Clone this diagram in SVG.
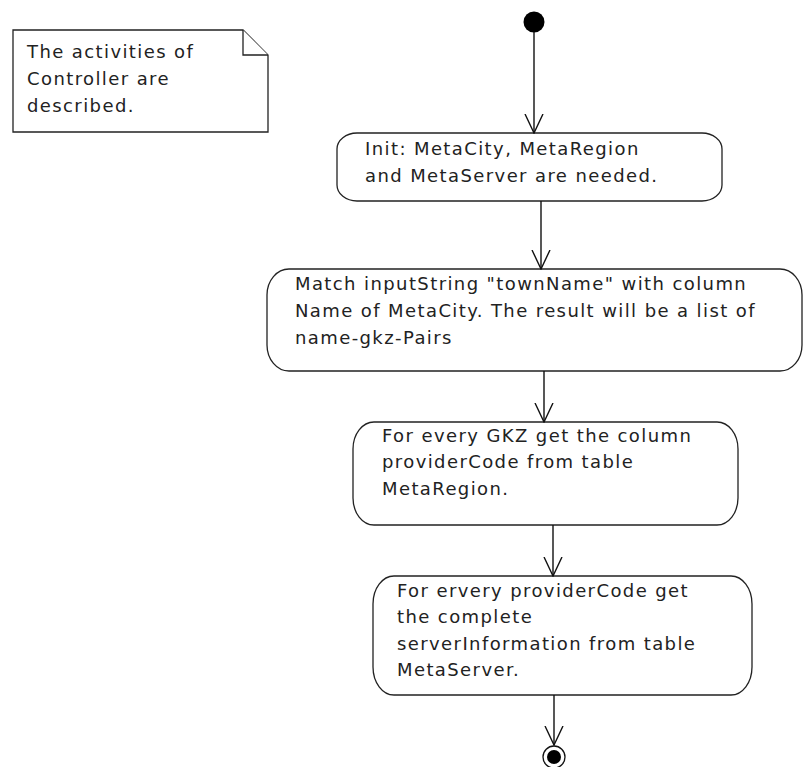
<svg xmlns="http://www.w3.org/2000/svg" width="803" height="767" viewBox="0 0 803 767">
<style>
.box{fill:#fff;stroke:#222;stroke-width:1.3}
.t{font-family:"DejaVu Sans",Verdana,sans-serif;font-size:18px;letter-spacing:1.4px;fill:#222}
.c{stroke:#111;stroke-width:1.4;fill:none}
</style>
<defs>
<marker id="open" markerWidth="20" markerHeight="22" refX="19" refY="10" orient="auto" markerUnits="userSpaceOnUse">
<path d="M0,1 L19,10 L0,19" fill="none" stroke="#111" stroke-width="1.4"/>
</marker>
</defs>
<rect width="803" height="767" fill="#fff"/>
<g id="note">
<path class="box" d="M13,30 H243 L268,55 V132 H13 Z"/>
<path class="box" d="M243,30 V55 H268" fill="none"/>
<text class="t" x="27" y="58">The activities of</text>
<text class="t" x="27" y="85">Controller are</text>
<text class="t" x="27" y="112">described.</text>
</g>
<g id="start"><circle cx="534" cy="22" r="10.5" fill="#000"/></g>
<g id="init">
<rect class="box" x="337" y="133" width="385" height="68" rx="20" ry="16"/>
<text class="t" x="365" y="155">Init: MetaCity, MetaRegion</text>
<text class="t" x="365" y="182">and MetaServer are needed.</text>
</g>
<g id="match">
<rect class="box" x="267" y="269" width="535" height="102" rx="22" ry="26"/>
<text class="t" x="295" y="290">Match inputString "townName" with column</text>
<text class="t" x="295" y="317">Name of MetaCity. The result will be a list of</text>
<text class="t" x="295" y="344">name-gkz-Pairs</text>
</g>
<g id="gkz">
<rect class="box" x="353" y="422" width="385" height="103" rx="21" ry="27"/>
<text class="t" x="382" y="442">For every GKZ get the column</text>
<text class="t" x="382" y="468">providerCode from table</text>
<text class="t" x="382" y="495">MetaRegion.</text>
</g>
<g id="server">
<rect class="box" x="373" y="576" width="379" height="119" rx="21" ry="28"/>
<text class="t" x="397" y="597">For ervery providerCode get</text>
<text class="t" x="397" y="623">the complete</text>
<text class="t" x="397" y="650">serverInformation from table</text>
<text class="t" x="397" y="676">MetaServer.</text>
</g>
<g id="end">
<circle cx="554" cy="757" r="11" fill="#fff" stroke="#111" stroke-width="1.3"/>
<circle cx="554" cy="757" r="7" fill="#000"/>
</g>
<g id="connectors">
<line class="c" x1="534" y1="32" x2="534" y2="133" marker-end="url(#open)"/>
<line class="c" x1="541" y1="201" x2="541" y2="269" marker-end="url(#open)"/>
<line class="c" x1="544" y1="371" x2="544" y2="422" marker-end="url(#open)"/>
<line class="c" x1="553" y1="525" x2="553" y2="576" marker-end="url(#open)"/>
<line class="c" x1="554" y1="695" x2="554" y2="745" marker-end="url(#open)"/>
</g>
</svg>
